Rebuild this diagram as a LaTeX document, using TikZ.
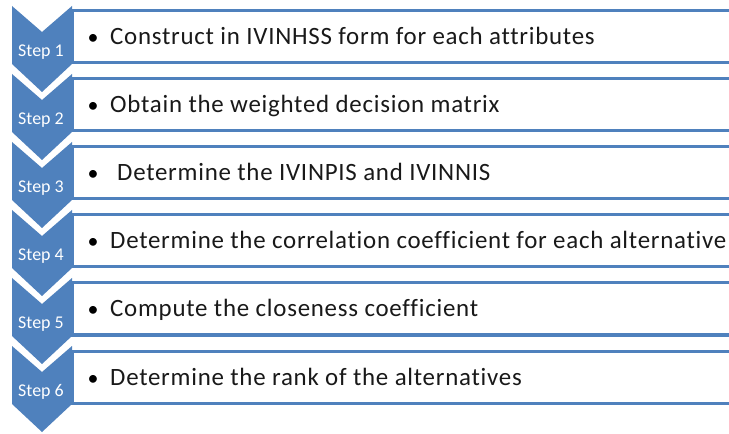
\documentclass[tikz,border=0pt]{standalone}
\usepackage{fontspec}
\setmainfont{Carlito}[Ligatures={NoCommon,NoContextual}]
\newfontfamily\boxfont{Carlito}[Ligatures={NoCommon,NoContextual},LetterSpace=3]
\definecolor{stepblue}{HTML}{4F81BD}
\tikzset{
  chevron/.style={fill=stepblue, draw=none},
  stepbox/.style={draw=stepblue, line width=3bp, fill=white},
  steplabel/.style={text=white, font=\fontsize{18}{20}\selectfont, inner sep=0pt},
  steptext/.style={text=black!90, font=\boxfont\fontsize{25}{28}\selectfont, anchor=base west, inner sep=0pt},
  bulletmark/.style={text=black, font=\fontsize{22}{24}\selectfont, anchor=base, inner sep=0pt},
}
\begin{document}
\begin{tikzpicture}[x=1bp,y=-1bp]
\useasboundingbox (0,0) rectangle (729,434);
\fill[white] (0,0) rectangle (729,434);
\foreach \k/\dx/\txt in {
  0/0/{Construct in IVINHSS form for each attributes},
  1/0/{Obtain the weighted decision matrix},
  2/7/{Determine the IVINPIS and IVINNIS},
  3/0/{Determine the correlation coefficient for each alternative},
  4/0/{Compute the closeness coefficient},
  5/0/{Determine the rank of the alternatives}}{
  \pgfmathsetmacro{\t}{6+68*\k}
  \pgfmathsetmacro{\b}{11+68*\k}
  % chevron arrow of the step
  \path[chevron] (12,\t) -- (42,\t+26) -- (72,\t) -- (72,\t+58)
       -- (42,\t+86) -- (12,\t+58) -- cycle;
  % text box of the step
  \draw[stepbox] (72,\b) rectangle (760,\b+52);
  \pgfmathtruncatemacro{\n}{\k+1}
  \node[steplabel] (lab\n) at (41,\t+46) {Step \n};
  \node[bulletmark] (bul\n) at (93,\b+34) {\textbullet};
  \node[steptext] (txt\n) at (110+\dx,\b+34) {\txt};
}
\end{tikzpicture}
\end{document}
